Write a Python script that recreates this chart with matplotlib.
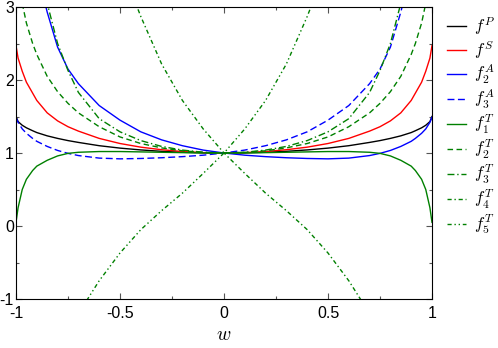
import numpy as np
import matplotlib
matplotlib.use("Agg")
import matplotlib.pyplot as plt
from matplotlib.ticker import MultipleLocator

plt.rcParams['font.family'] = ['Liberation Sans', 'DejaVu Sans']
plt.rcParams['mathtext.fontset'] = 'cm'
plt.rcParams['axes.unicode_minus'] = False

nan = np.nan

# abscissa samples
w = [-1, -0.99, -0.97, -0.95, -0.92, -0.9, -0.85, -0.8, -0.75, -0.7, -0.6, -0.5,
     -0.4, -0.3, -0.2, -0.1, 0, 0.1, 0.2, 0.3, 0.4, 0.5, 0.6, 0.7, 0.75, 0.8,
     0.85, 0.9, 0.92, 0.95, 0.97, 0.99, 1]

fP = [1.5, 1.43, 1.38, 1.345, 1.305, 1.28, 1.235, 1.2, 1.17, 1.145, 1.1, 1.067,
      1.042, 1.023, 1.01, 1.003, 1.0, 1.003, 1.01, 1.023, 1.042, 1.067, 1.1, 1.145,
      1.17, 1.2, 1.235, 1.28, 1.305, 1.345, 1.38, 1.43, 1.5]

fS = [2.47, 2.3, 2.12, 1.97, 1.82, 1.72, 1.55, 1.44, 1.36, 1.3, 1.2, 1.13,
      1.08, 1.045, 1.02, 1.005, 1.0, 1.005, 1.02, 1.045, 1.08, 1.13, 1.2, 1.3,
      1.36, 1.44, 1.55, 1.72, 1.82, 1.97, 2.12, 2.3, 2.47]

f2A = [nan, nan, nan, nan, nan, 3.5, 2.93, 2.45, 2.15, 1.95, 1.65, 1.45,
       1.29, 1.18, 1.1, 1.04, 1.0, 0.97, 0.95, 0.935, 0.925, 0.92, 0.93, 0.965,
       0.995, 1.035, 1.09, 1.16, 1.2, 1.27, 1.33, 1.42, 1.49]

f3A = [1.49, 1.42, 1.33, 1.27, 1.2, 1.16, 1.09, 1.035, 0.995, 0.965, 0.93, 0.92,
       0.925, 0.935, 0.95, 0.97, 1.0, 1.04, 1.1, 1.18, 1.29, 1.45, 1.65, 1.95,
       2.15, 2.45, 2.93, 3.5, nan, nan, nan, nan, nan]

f1T = [0.05, 0.25, 0.5, 0.64, 0.76, 0.82, 0.9, 0.96, 0.995, 1.01, 1.02, 1.02,
       1.015, 1.01, 1.005, 1.0, 1.0, 1.0, 1.005, 1.01, 1.015, 1.02, 1.02, 1.01,
       0.995, 0.96, 0.9, 0.82, 0.76, 0.64, 0.5, 0.25, 0.05]

f2T = [nan, nan, 3.05, 2.78, 2.5, 2.35, 2.05, 1.84, 1.68, 1.55, 1.36, 1.22,
       1.13, 1.07, 1.03, 1.008, 1.0, 1.008, 1.03, 1.07, 1.13, 1.22, 1.36, 1.55,
       1.68, 1.84, 2.05, 2.35, 2.5, 2.78, 3.05, nan, nan]

f3T = [nan, nan, nan, nan, nan, 3.8, 3.05, 2.5, 2.13, 1.83, 1.47, 1.29,
       1.17, 1.09, 1.04, 1.01, 1.0, 1.01, 1.04, 1.09, 1.17, 1.29, 1.47, 1.83,
       2.13, 2.5, 3.05, 3.8, nan, nan, nan, nan, nan]

f4T = [nan, nan, nan, nan, nan, nan, nan, nan, nan, nan, nan, 3.6,
       2.87, 2.22, 1.72, 1.33, 1.0, 0.72, 0.45, 0.21, -0.05, -0.37, -0.75, -1.2,
       nan, nan, nan, nan, nan, nan, nan, nan, nan]

f5T = [nan, nan, nan, nan, nan, nan, nan, nan, nan, -1.2, -0.75, -0.37,
       -0.05, 0.21, 0.45, 0.72, 1.0, 1.33, 1.72, 2.22, 2.87, 3.6, nan, nan,
       nan, nan, nan, nan, nan, nan, nan, nan, nan]

green = '#008000'

fig = plt.figure(figsize=(4.98, 3.48), dpi=100)
ax = fig.add_axes([16/498, 49/348, 416/498, 292/348])

lw = 1.0
ax.plot(w, fP, color='black', lw=lw, label='$f^P$')
ax.plot(w, fS, color='red', lw=lw, label='$f^S$')
ax.plot(w, f2A, color='blue', lw=lw, label='$f_2^A$')
ax.plot(w, f3A, color='blue', lw=lw, ls=(0, (5, 2.5)), label='$f_3^A$')
ax.plot(w, f1T, color=green, lw=lw, label='$f_1^T$')
ax.plot(w, f2T, color=green, lw=lw, ls=(0, (4, 2.5)), label='$f_2^T$')
ax.plot(w, f3T, color=green, lw=lw, ls=(0, (5, 2, 1, 2)), label='$f_3^T$')
ax.plot(w, f4T, color=green, lw=lw, ls=(0, (3, 2, 1, 2)), label='$f_4^T$')
ax.plot(w, f5T, color=green, lw=lw, ls=(0, (3, 2, 1, 2, 1, 2)), label='$f_5^T$')

ax.set_xlim(-1, 1)
ax.set_ylim(-1, 3)
ax.xaxis.set_minor_locator(MultipleLocator(0.25))
ax.yaxis.set_minor_locator(MultipleLocator(0.5))
ax.set_xticks([-1, -0.5, 0, 0.5, 1])
ax.set_xticklabels(['-1', '-0.5', '0', '0.5', '1'])
ax.set_yticks([-1, 0, 1, 2, 3])
ax.set_yticklabels(['-1', '0', '1', '2', '3'])
ax.tick_params(which='both', direction='in', top=True, right=True,
               labelsize=11.5, color='#555555', width=0.8)
ax.tick_params(which='major', length=4)
ax.tick_params(axis='x', which='major', pad=5)
ax.tick_params(axis='y', which='major', pad=1.5)
ax.tick_params(which='minor', length=2.5)
for s in ax.spines.values():
    s.set_linewidth(0.8)

ax.set_xlabel('$w$', fontsize=14, labelpad=4)

ax.legend(loc='upper left', bbox_to_anchor=(1.02, 0.995), frameon=False,
          fontsize=12, handlelength=1.15, handletextpad=0.45, labelspacing=0.12,
          borderaxespad=0.2, borderpad=0.2)

fig.savefig('out.png', dpi=100)
